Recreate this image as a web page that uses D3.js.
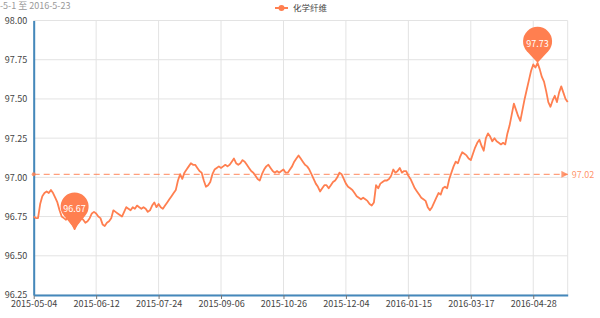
<!DOCTYPE html>
<html lang="zh">
<head>
  <meta charset="UTF-8" />
  <title>化学纤维</title>
  <style>
    body { margin: 0; padding: 0; background: #fff; font-family: "Noto Sans CJK SC", "Noto Sans", sans-serif; }
    svg { display: block; }
  </style>
</head>
<body>
  <svg id="chart"></svg>

  <script src="https://d3js.org/d3.v7.min.js"></script>
  <script>
    const width = 600, height = 318;

    const title = "2015-5-1 至 2016-5-23";
    const seriesName = "化学纤维";

    // x axis labels, one every 29 trading days
    const tickLabels = ["2015-05-04", "2015-06-12", "2015-07-24", "2015-09-06",
      "2015-10-26", "2015-12-04", "2016-01-15", "2016-03-17", "2016-04-28"];
    const yTicks = [96.25, 96.5, 96.75, 97, 97.25, 97.5, 97.75, 98];

    // daily index values
    const values = [
      96.75, 96.74, 96.74, 96.83, 96.88, 96.90, 96.91, 96.90, 96.92, 96.90,
      96.87, 96.84, 96.79, 96.75, 96.74, 96.73, 96.75, 96.72, 96.70, 96.67,
      96.70, 96.72, 96.74, 96.73, 96.71, 96.72, 96.74, 96.77, 96.78, 96.77,
      96.75, 96.74, 96.70, 96.69, 96.71, 96.72, 96.74, 96.79, 96.78, 96.77,
      96.76, 96.75, 96.78, 96.81, 96.80, 96.79, 96.81, 96.80, 96.82, 96.81,
      96.80, 96.81, 96.80, 96.78, 96.79, 96.82, 96.84, 96.81, 96.83, 96.81,
      96.80, 96.82, 96.84, 96.86, 96.88, 96.90, 96.92, 96.98, 97.02, 96.99,
      97.03, 97.05, 97.07, 97.09, 97.08, 97.08, 97.06, 97.04, 97.03, 96.98,
      96.94, 96.95, 96.97, 97.02, 97.05, 97.06, 97.07, 97.06, 97.07, 97.08,
      97.07, 97.08, 97.10, 97.12, 97.09, 97.08, 97.09, 97.11, 97.10, 97.08,
      97.06, 97.04, 97.03, 97.01, 96.99, 96.98, 97.02, 97.05, 97.07, 97.08,
      97.06, 97.04, 97.03, 97.04, 97.03, 97.04, 97.05, 97.03, 97.03, 97.05,
      97.07, 97.10, 97.12, 97.14, 97.12, 97.10, 97.08, 97.07, 97.05, 97.02,
      96.99, 96.96, 96.94, 96.91, 96.93, 96.95, 96.95, 96.93, 96.95, 96.97,
      96.98, 97.00, 97.03, 97.02, 96.99, 96.96, 96.94, 96.93, 96.92, 96.90,
      96.88, 96.87, 96.86, 96.87, 96.86, 96.85, 96.83, 96.82, 96.84, 96.95,
      96.93, 96.96, 96.97, 96.98, 96.98, 96.99, 97.01, 97.05, 97.03, 97.04,
      97.06, 97.03, 97.04, 97.04, 97.01, 96.99, 96.96, 96.93, 96.91, 96.89,
      96.87, 96.86, 96.85, 96.81, 96.79, 96.81, 96.84, 96.87, 96.90, 96.89,
      96.93, 96.94, 96.93, 96.99, 97.03, 97.07, 97.10, 97.09, 97.13, 97.16,
      97.15, 97.14, 97.12, 97.11, 97.15, 97.19, 97.22, 97.24, 97.20, 97.17,
      97.25, 97.28, 97.26, 97.23, 97.25, 97.23, 97.22, 97.21, 97.22, 97.21,
      97.28, 97.33, 97.40, 97.47, 97.43, 97.39, 97.36, 97.43, 97.50, 97.56,
      97.62, 97.68, 97.72, 97.70, 97.73, 97.69, 97.64, 97.61, 97.55, 97.48,
      97.45, 97.49, 97.52, 97.48, 97.54, 97.58, 97.54, 97.50, 97.48
    ];

    const color = "#ff7f50";
    const axisColor = "#48b";
    const gridColor = "#e3e3e3";
    const fontSize = 9;
    const margin = { left: 33.7, right: 32.3, top: 20.5, bottom: 23 };

    const svg = d3.select("#chart")
      .attr("width", width)
      .attr("height", height)
      .attr("viewBox", `0 0 ${width} ${height}`);

    const x = d3.scaleLinear()
      .domain([0, values.length - 1])
      .range([margin.left, width - margin.right]);

    const y = d3.scaleLinear()
      .domain([yTicks[0], yTicks[yTicks.length - 1]])
      .range([height - margin.bottom, margin.top]);

    const xTickIdx = tickLabels.map((d, i) => i * 29).filter(i => i < values.length);

    // grid
    svg.append("g")
      .selectAll("line")
      .data(yTicks)
      .join("line")
      .attr("x1", x.range()[0]).attr("x2", x.range()[1])
      .attr("y1", d => y(d)).attr("y2", d => y(d))
      .attr("stroke", gridColor).attr("stroke-width", 1);

    svg.append("g")
      .selectAll("line")
      .data(xTickIdx.concat([values.length - 1]))
      .join("line")
      .attr("x1", d => x(d)).attr("x2", d => x(d))
      .attr("y1", y.range()[0]).attr("y2", y.range()[1])
      .attr("stroke", gridColor).attr("stroke-width", 1);

    // axes
    const xAxis = d3.axisBottom(x)
      .tickValues(xTickIdx)
      .tickFormat((d, i) => tickLabels[i])
      .tickSizeInner(4).tickSizeOuter(0).tickPadding(1.5);

    const gx = svg.append("g")
      .attr("transform", `translate(0,${y.range()[0]})`)
      .call(xAxis);
    gx.select(".domain").attr("stroke", axisColor).attr("stroke-width", 2);
    gx.selectAll(".tick line").attr("stroke", "#777");
    gx.selectAll(".tick text")
      .attr("fill", "#444").attr("font-size", fontSize)
      .attr("font-family", "'Noto Sans CJK SC', sans-serif");

    const yAxis = d3.axisLeft(y)
      .tickValues(yTicks)
      .tickFormat(d3.format(".2f"))
      .tickSize(0).tickPadding(6.5);

    const gy = svg.append("g")
      .attr("transform", `translate(${x.range()[0]},0)`)
      .call(yAxis);
    gy.select(".domain").attr("stroke", axisColor).attr("stroke-width", 2);
    gy.selectAll(".tick text")
      .attr("fill", "#444").attr("font-size", fontSize)
      .attr("font-family", "'Noto Sans CJK SC', sans-serif");

    // average mark line
    const avg = d3.mean(values);
    const defs = svg.append("defs");
    defs.append("marker")
      .attr("id", "arrow")
      .attr("viewBox", "0 0 10 10")
      .attr("refX", 9).attr("refY", 5)
      .attr("markerWidth", 7).attr("markerHeight", 7)
      .attr("markerUnits", "userSpaceOnUse")
      .attr("orient", "auto")
      .append("path")
      .attr("d", "M0,0 L10,5 L0,10 Z")
      .attr("fill", color).attr("fill-opacity", 0.8);

    svg.append("line")
      .attr("x1", x.range()[0]).attr("x2", x.range()[1])
      .attr("y1", y(avg)).attr("y2", y(avg))
      .attr("stroke", color).attr("stroke-opacity", 0.75)
      .attr("stroke-width", 1.2)
      .attr("stroke-dasharray", "6,4")
      .attr("marker-end", "url(#arrow)");
    svg.append("circle")
      .attr("cx", x.range()[0]).attr("cy", y(avg)).attr("r", 2)
      .attr("fill", color).attr("fill-opacity", 0.8);
    svg.append("text")
      .attr("x", x.range()[1] + 4).attr("y", y(avg))
      .attr("dy", "0.35em")
      .attr("fill", color).attr("fill-opacity", 0.85)
      .attr("font-size", fontSize)
      .text(d3.format(".2f")(avg));

    // series line
    svg.append("path")
      .datum(values)
      .attr("fill", "none")
      .attr("stroke", color)
      .attr("stroke-width", 1.8)
      .attr("stroke-linejoin", "round")
      .attr("d", d3.line().x((d, i) => x(i)).y(d => y(d)));

    // min / max pins
    function pin(idx, r, dist) {
      const tx = x(idx), ty = y(values[idx]);
      const cy = ty - dist;
      const a = Math.acos(r / dist);
      const px = r * Math.sin(a), py = r * Math.cos(a);
      const g = svg.append("g");
      g.append("path")
        .attr("d", `M${tx},${ty} L${tx - px},${cy + py} A${r},${r} 0 1 1 ${tx + px},${cy + py} Z`)
        .attr("fill", color);
      g.append("text")
        .attr("x", tx).attr("y", cy + 2)
        .attr("dy", "0.35em")
        .attr("text-anchor", "middle")
        .attr("fill", "#fff")
        .attr("font-size", fontSize)
        .text(d3.format(".2f")(values[idx]));
    }
    pin(d3.minIndex(values), 14, 22.5);
    pin(d3.maxIndex(values), 14.5, 21.5);

    // title (partly cut off on the left as in the original)
    svg.append("text")
      .attr("x", -20).attr("y", 6)
      .attr("dy", "0.35em")
      .attr("fill", "#999").attr("font-size", fontSize)
      .text(title);

    // legend
    const lg = svg.append("g").attr("transform", "translate(275,8)");
    lg.append("line").attr("x1", 0).attr("x2", 13).attr("y1", 0).attr("y2", 0)
      .attr("stroke", color).attr("stroke-width", 2);
    lg.append("circle").attr("cx", 6.5).attr("cy", 0).attr("r", 3).attr("fill", color);
    lg.append("text").attr("x", 18).attr("y", 0).attr("dy", "0.35em")
      .attr("fill", "#444").attr("font-size", 8.5)
      .text(seriesName);
  </script>
</body>
</html>
